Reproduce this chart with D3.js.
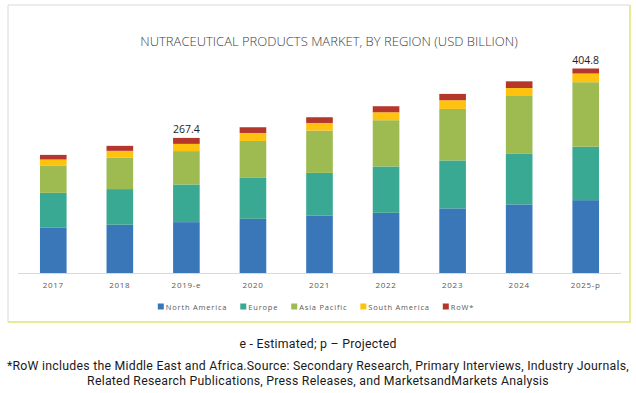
<!DOCTYPE html>
<html>
<head>
<meta charset="utf-8">
<script src="https://cdn.jsdelivr.net/npm/d3@7.9.0/dist/d3.min.js"></script>
<style>
  html, body { margin: 0; padding: 0; background: #fff; }
  svg { display: block; }
</style>
</head>
<body>
<svg id="chart" width="636" height="393"></svg>
<script>
const years = ['2017', '2018', '2019-e', '2020', '2021', '2022', '2023', '2024', '2025-p'];
const regions = ['North America', 'Europe', 'Asia Pacific', 'South America', 'RoW*'];
const northAmerica = [90.3, 95.5, 100.7, 107.3, 114.0, 119.2, 127.9, 135.8, 144.2];
const europe       = [68.4, 70.6, 74.5, 81.0, 84.2, 91.7, 94.9, 100.0, 105.8];
const asiaPacific  = [53.4, 61.9, 66.1, 73.1, 83.8, 91.5, 102.0, 114.6, 127.6];
const southAmerica = [12.6, 13.8, 14.3, 15.8, 15.0, 15.8, 17.2, 15.8, 17.3];
const row          = [9.1, 9.9, 11.8, 11.3, 11.3, 11.9, 12.5, 13.2, 9.9];
const labelled = { '2019-e': '267.4', '2025-p': '404.8' };
const colors = ['#3a77b8', '#3aa993', '#9dbb51', '#fec20f', '#b5362b'];

const svg = d3.select('#chart');

// frame around the chart
svg.append('line').attr('x1', 8).attr('y1', 5).attr('x2', 630).attr('y2', 5).attr('stroke', '#dadada');
svg.append('line').attr('x1', 8).attr('y1', 5).attr('x2', 8).attr('y2', 322).attr('stroke', '#dadada');
svg.append('line').attr('x1', 630).attr('y1', 5).attr('x2', 630).attr('y2', 322).attr('stroke', '#e6ea9a').attr('stroke-width', 2);
svg.append('line').attr('x1', 8).attr('y1', 322).attr('x2', 631).attr('y2', 322).attr('stroke', '#e6ea9a').attr('stroke-width', 2);

svg.append('text')
    .attr('x', 329).attr('y', 46)
    .attr('text-anchor', 'middle')
    .attr('font-family', '"Open Sans", sans-serif')
    .attr('font-weight', 300)
    .attr('font-size', 13)
    .attr('fill', '#404040')
    .text('NUTRACEUTICAL PRODUCTS MARKET, BY REGION (USD BILLION)');

const x = d3.scaleBand().domain(years).range([20, 619]).paddingInner(0.6).paddingOuter(0.3);
const y = d3.scaleLinear().domain([0, 404.8]).range([273, 68.5]);

const rows = years.map((yr, i) => ({
    year: yr,
    'North America': northAmerica[i],
    'Europe': europe[i],
    'Asia Pacific': asiaPacific[i],
    'South America': southAmerica[i],
    'RoW*': row[i]
}));
const stack = d3.stack().keys(regions)(rows);

svg.append('g').selectAll('g')
    .data(stack)
    .join('g')
    .attr('fill', (d, i) => colors[i])
    .selectAll('rect')
    .data(d => d)
    .join('rect')
    .attr('x', d => x(d.data.year))
    .attr('width', x.bandwidth())
    .attr('y', d => y(d[1]))
    .attr('height', d => y(d[0]) - y(d[1]));

// totals
const last = stack[stack.length - 1];
svg.append('g').selectAll('text')
    .data(last.filter(d => labelled[d.data.year]))
    .join('text')
    .attr('x', d => x(d.data.year) + x.bandwidth() / 2)
    .attr('y', d => y(d[1]) - 5)
    .attr('text-anchor', 'middle')
    .attr('font-family', '"Open Sans", sans-serif')
    .attr('font-size', 10.5)
    .attr('fill', '#222')
    .text(d => labelled[d.data.year]);

const xAxis = svg.append('g')
    .attr('transform', 'translate(0,273)')
    .call(d3.axisBottom(x).tickSize(0).tickPadding(9));
xAxis.select('.domain').attr('stroke', '#d9d9d9').attr('d', 'M-2,0.5H601').attr('transform', 'translate(20,0)');
xAxis.selectAll('text')
    .attr('font-family', '"Open Sans", sans-serif')
    .attr('font-size', 8)
    .attr('letter-spacing', 0.7)
    .attr('fill', '#595959');

// legend, laid out in a row and centred
const legendG = svg.append('g');
const legend = legendG.selectAll('g')
    .data(regions)
    .join('g');
legend.append('rect')
    .attr('x', 0).attr('y', -3.5).attr('width', 6).attr('height', 6)
    .attr('fill', (d, i) => colors[i]);
legend.append('text')
    .attr('x', 8).attr('y', 3)
    .attr('font-family', '"Open Sans", sans-serif')
    .attr('font-size', 7.5)
    .attr('letter-spacing', 0.8)
    .attr('fill', '#595959')
    .text(d => d);
let cursor = 0;
legend.each(function() {
    const g = d3.select(this);
    g.attr('transform', `translate(${cursor},0)`);
    cursor += 8 + g.select('text').node().getComputedTextLength() + 13;
});
const legendW = cursor - 13;
legendG.attr('transform', `translate(${316 - legendW / 2},307)`);

const notes = [
    ['e - Estimated; p \u2013 Projected', 348],
    ['*RoW includes the Middle East and Africa.Source: Secondary Research, Primary Interviews, Industry Journals,', 370],
    ['Related Research Publications, Press Releases, and MarketsandMarkets Analysis', 385]
];
svg.append('g').selectAll('text')
    .data(notes)
    .join('text')
    .attr('x', 318)
    .attr('y', d => d[1])
    .attr('text-anchor', 'middle')
    .attr('font-family', 'Roboto, sans-serif')
    .attr('font-size', 12.3)
    .attr('letter-spacing', 0.25)
    .attr('fill', '#1a1a1a')
    .text(d => d[0]);
</script>
</body>
</html>
